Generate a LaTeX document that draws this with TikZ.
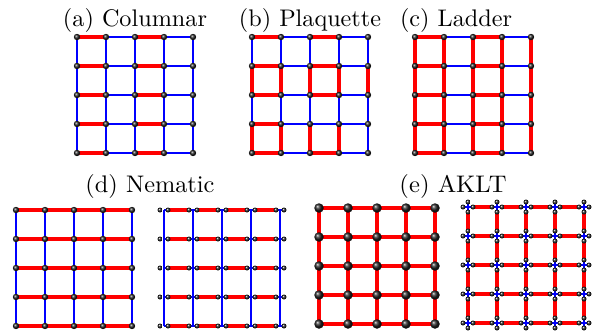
\documentclass[tikz,border=0pt]{standalone}
\usepackage{graphicx}
\usepackage{fontspec}
\setmainfont{lmroman10-regular.otf}
\tikzset{
  site/.style={circle, inner sep=0pt, minimum size=6.4pt, shading=ball, ball color=black!88},
  bigsite/.style={site, minimum size=9.5pt},
  smallsite/.style={site, minimum size=5pt},
  rb/.style={draw=red, line width=4pt},
  rbw/.style={draw=red, line width=4.8pt},
  bb/.style={draw=blue, line width=1.8pt},
  bbw/.style={draw=blue, line width=2.5pt},
  lab/.style={anchor=base, inner sep=0pt, font=\fontsize{24}{28}\selectfont},
}
\newcommand\mkgrid[5]{%
  \foreach \i in {0,...,4}{\foreach \j in {0,...,4}{%
    \coordinate (#1-\i-\j) at ({#2+\i*#4},{#3+\j*#5});}}}
\newcommand\alldots[2]{%
  \foreach \i in {0,...,4}{\foreach \j in {0,...,4}{%
    \node[#2] (#1d-\i-\j) at (#1-\i-\j) {};}}}
\newcommand\labtext[2]{\resizebox{#1pt}{\height}{#2}}
\begin{document}
\begin{tikzpicture}[x=1pt,y=-1pt]
\useasboundingbox (0,0) rectangle (606,335);
% labels
\node[lab] (la) at (135,26.5) {\labtext{144}{(a) Columnar}};
\node[lab] (lb) at (310,26.5) {\labtext{142}{(b) Plaquette}};
\node[lab] (lc) at (456,26.5) {\labtext{112}{(c) Ladder}};
\node[lab] (ld) at (150,192) {\labtext{129}{(d) Nematic}};
\node[lab] (le) at (453,192) {\labtext{107}{(e) AKLT}};

% ---------- (a) Columnar
\mkgrid{A}{77}{37}{29}{29}
\foreach \j in {0,...,4}{\foreach \i/\k in {0/1,1/2,2/3,3/4}{\draw[bb] (A-\i-\j) -- (A-\k-\j);}}
\foreach \i in {0,...,3}{\foreach \j/\k in {0/1,1/2,2/3,3/4}{\draw[bb] (A-\i-\j) -- (A-\i-\k);}}
\foreach \j/\k in {0/1,1/2,2/3,3/4}{\draw[bbw] (A-4-\j) -- (A-4-\k);}
\foreach \j in {0,...,4}{\foreach \i/\k in {0/1,2/3}{\draw[rb] (A-\i-\j) -- (A-\k-\j);}}
\alldots{A}{site}

% ---------- (b) Plaquette
\mkgrid{B}{252}{37}{29}{29}
\foreach \j in {0,...,4}{\foreach \i/\k in {0/1,1/2,2/3,3/4}{\draw[bb] (B-\i-\j) -- (B-\k-\j);}}
\foreach \i in {0,...,4}{\foreach \j/\k in {0/1,1/2,2/3,3/4}{\draw[bb] (B-\i-\j) -- (B-\i-\k);}}
\foreach \j in {0,1,2,4}{\foreach \i/\k in {0/1,2/3}{\draw[rb] (B-\i-\j) -- (B-\k-\j);}}
\draw[rb] (B-0-3) -- (B-1-3);
\foreach \i in {0,...,4}{\draw[rb] (B-\i-1) -- (B-\i-2);}
\foreach \i in {0,...,3}{\draw[rb] (B-\i-3) -- (B-\i-4);}
\alldots{B}{site}

% ---------- (c) Ladder
\mkgrid{C}{415}{37}{29}{29}
\foreach \j in {0,...,4}{\foreach \i/\k in {1/2,3/4}{\draw[bb] (C-\i-\j) -- (C-\k-\j);}}
\foreach \j in {0,...,4}{\foreach \i/\k in {0/1,2/3}{\draw[rb] (C-\i-\j) -- (C-\k-\j);}}
\foreach \i in {0,...,4}{\foreach \j/\k in {0/1,1/2,2/3,3/4}{\draw[rb] (C-\i-\j) -- (C-\i-\k);}}
\alldots{C}{site}

% ---------- (d) Nematic, left
\mkgrid{D}{16}{210}{29}{29}
\foreach \i in {0,...,3}{\foreach \j/\k in {0/1,1/2,2/3,3/4}{\draw[bb] (D-\i-\j) -- (D-\i-\k);}}
\foreach \j/\k in {0/1,1/2,2/3,3/4}{\draw[bbw] (D-4-\j) -- (D-4-\k);}
\foreach \j in {0,...,4}{\foreach \i/\k in {0/1,1/2,2/3,3/4}{\draw[rb] (D-\i-\j) -- (D-\k-\j);}}
\alldots{D}{site}

% ---------- (d) Nematic, right
\mkgrid{N}{164}{210}{29}{29}
\mkgrid{NL}{160}{210}{29}{29}
\mkgrid{NR}{168}{210}{29}{29}
\foreach \i in {0,...,3}{\draw[bb] (N-\i-0) -- (N-\i-4);}
\draw[bbw] (N-4-0) -- (N-4-4);
\foreach \j in {0,...,4}{%
  \draw[bb] (N-0-\j) -- (NR-0-\j);
  \foreach \i in {1,...,4}{\draw[bb] (NL-\i-\j) -- (NR-\i-\j);}
  \foreach \i/\k in {0/1,1/2,2/3,3/4}{\draw[rbw] (NR-\i-\j) -- (NL-\k-\j);}}
\alldots{NL}{smallsite}
\alldots{NR}{smallsite}

% ---------- (e) AKLT, left
\mkgrid{K}{319}{208}{29}{29}
\foreach \j in {0,...,4}{\foreach \i/\k in {0/1,1/2,2/3,3/4}{\draw[rbw] (K-\i-\j) -- (K-\k-\j);}}
\foreach \i in {0,...,4}{\foreach \j/\k in {0/1,1/2,2/3,3/4}{\draw[rbw] (K-\i-\j) -- (K-\i-\k);}}
\alldots{K}{bigsite}

% ---------- (e) AKLT, right
\mkgrid{M}{468}{207}{29}{29}
\mkgrid{MU}{468}{202}{29}{29}
\mkgrid{MD}{468}{212}{29}{29}
\mkgrid{ML}{463}{207}{29}{29}
\mkgrid{MR}{473}{207}{29}{29}
\foreach \i in {0,...,4}{\foreach \j in {0,...,4}{%
  \draw[bb] (MU-\i-\j) -- (MD-\i-\j);
  \draw[bb] (ML-\i-\j) -- (MR-\i-\j);}}
\foreach \j in {0,...,4}{\foreach \i/\k in {0/1,1/2,2/3,3/4}{\draw[rbw] (MR-\i-\j) -- (ML-\k-\j);}}
\foreach \i in {0,...,4}{\foreach \j/\k in {0/1,1/2,2/3,3/4}{\draw[rbw] (MD-\i-\j) -- (MU-\i-\k);}}
\alldots{MU}{smallsite}
\alldots{MD}{smallsite}
\alldots{ML}{smallsite}
\alldots{MR}{smallsite}
\end{tikzpicture}
\end{document}
